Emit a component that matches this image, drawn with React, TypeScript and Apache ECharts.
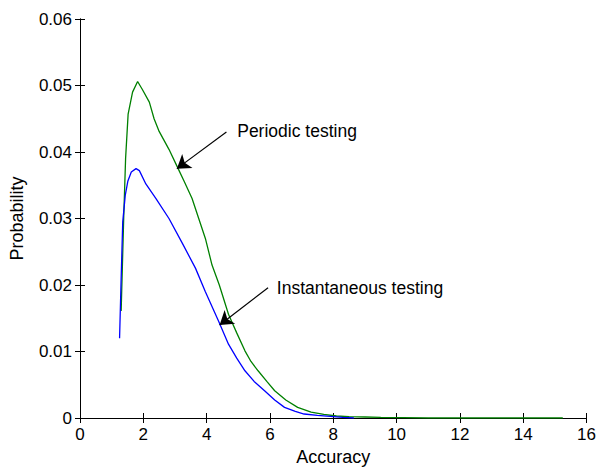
import React, { useEffect, useRef } from "react";
import * as echarts from "echarts";

const xTicks = [0, 2, 4, 6, 8, 10, 12, 14, 16];
const yTicks = [0, 0.01, 0.02, 0.03, 0.04, 0.05, 0.06];

const periodicX = [1.3, 1.38, 1.44, 1.52, 1.66, 1.82, 1.97, 2.19, 2.34, 2.5, 2.81, 3.07, 3.3, 3.54, 3.75, 3.96, 4.17, 4.4, 4.69, 4.95, 5.21, 5.4, 5.625, 5.9, 6.15, 6.5, 6.875, 7.3, 7.7, 8.1, 8.5, 9.0, 9.5, 10.2, 11, 12, 13, 14, 15.25];
const periodicY = [0.0161, 0.03, 0.039, 0.0457, 0.049, 0.0506, 0.0494, 0.0475, 0.045, 0.0431, 0.0404, 0.0378, 0.0355, 0.033, 0.03, 0.027, 0.023, 0.02, 0.0156, 0.0128, 0.0101, 0.0085, 0.0071, 0.0055, 0.0041, 0.0027, 0.0016, 0.0009, 0.00055, 0.0003, 0.0002, 0.00015, 0.0001, 0.00005, 0, 0, 0, 0, 0];

const instantX = [1.25, 1.3, 1.35, 1.43, 1.51, 1.62, 1.77, 1.875, 2.08, 2.4, 2.81, 3.23, 3.65, 3.96, 4.375, 4.69, 4.95, 5.21, 5.5, 5.83, 6.15, 6.46, 6.8, 7.08, 7.5, 7.9, 8.3, 8.65];
const instantY = [0.012, 0.021, 0.0295, 0.0335, 0.0356, 0.037, 0.0375, 0.0372, 0.0352, 0.033, 0.03, 0.0263, 0.0225, 0.019, 0.0146, 0.0111, 0.009, 0.0071, 0.0055, 0.0041, 0.0027, 0.0016, 0.001, 0.0006, 0.0004, 0.00025, 0.0001, 0];

const annotations = [
  { text: "Periodic testing", from: [4.625, 0.043], to: [3.06, 0.0375], label: [4.95, 0.0431] },
  { text: "Instantaneous testing", from: [5.94, 0.0196], to: [4.41, 0.014], label: [6.2, 0.0196] },
];

const FONT = "Liberation Sans, Arial, sans-serif";

export default function App() {
  const ref = useRef<HTMLDivElement>(null);
  useEffect(() => {
    if (!ref.current) return;
    const chart = echarts.init(ref.current, null, { renderer: "svg" });
    const axisLine = { show: true, lineStyle: { color: "#000", width: 1 } };
    const tickStyle = { show: true, inside: true, length: 5, lineStyle: { color: "#000" } };
    chart.setOption({
      animation: false,
      backgroundColor: "#fff",
      grid: { left: 80, right: 7, top: 19, bottom: 50, containLabel: false },
      xAxis: [
        {
          type: "value", min: 0, max: 16, interval: 2,
          axisLine, axisTick: tickStyle, splitLine: { show: false },
          axisLabel: { color: "#000", fontSize: 17, fontFamily: FONT, margin: 8 },
          name: "Accuracy", nameLocation: "middle", nameGap: 30,
          nameTextStyle: { color: "#000", fontSize: 18, fontFamily: FONT },
        },
        {
          type: "value", position: "top", min: 0, max: 16, interval: 2,
          axisLine, axisTick: tickStyle, axisLabel: { show: false }, splitLine: { show: false },
        },
      ],
      yAxis: [
        {
          type: "value", min: 0, max: 0.06, interval: 0.01,
          axisLine, axisTick: tickStyle, splitLine: { show: false },
          axisLabel: {
            color: "#000", fontSize: 17, fontFamily: FONT, margin: 8,
            formatter: (v: number) => (v === 0 ? "0" : v.toFixed(2)),
          },
          name: "Probability", nameLocation: "middle", nameGap: 54,
          nameTextStyle: { color: "#000", fontSize: 18, fontFamily: FONT },
        },
        {
          type: "value", position: "right", min: 0, max: 0.06, interval: 0.01,
          axisLine, axisTick: tickStyle, axisLabel: { show: false }, splitLine: { show: false },
        },
      ],
      series: [
        {
          type: "line", name: "Periodic testing", showSymbol: false, symbol: "none",
          data: periodicX.map((x, i) => [x, periodicY[i]]),
          lineStyle: { color: "#008000", width: 1.3 },
          markLine: {
            silent: true, symbol: ["none", "arrow"], symbolSize: 13,
            lineStyle: { color: "#000", width: 1.2, type: "solid" },
            label: { show: false },
            data: annotations.map((a) => [
              { coord: a.from },
              { coord: a.to },
            ]),
          },
          markPoint: {
            silent: true, symbol: "circle", symbolSize: 1, itemStyle: { color: "rgba(0,0,0,0)" },
            data: annotations.map((a) => ({
              coord: a.label,
              label: {
                show: true, formatter: a.text, position: "right", distance: 0,
                color: "#000", fontSize: 17.5, fontFamily: FONT,
              },
            })),
          },
        },
        {
          type: "line", name: "Instantaneous testing", showSymbol: false, symbol: "none",
          data: instantX.map((x, i) => [x, instantY[i]]),
          lineStyle: { color: "#0000ff", width: 1.3 },
        },
      ],
    });
    return () => chart.dispose();
  }, []);
  return <div ref={ref} style={{ width: 599, height: 471, position: "absolute", left: 0, top: 0 }} />;
}
